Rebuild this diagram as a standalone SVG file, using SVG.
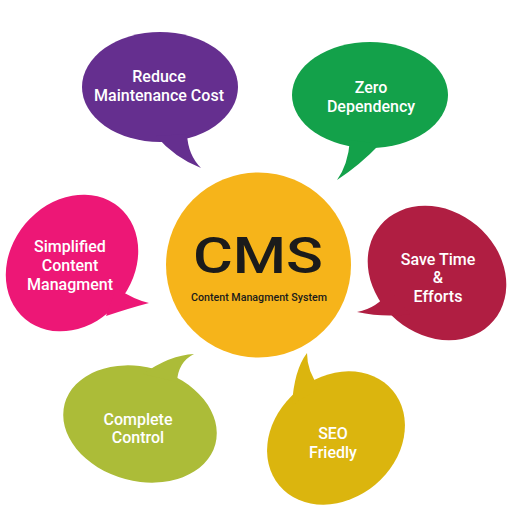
<svg xmlns="http://www.w3.org/2000/svg" width="512" height="512" viewBox="0 0 512 512">
<style>
.lbl{font-family:Roboto,"Liberation Sans",sans-serif;font-weight:500;font-size:16px;fill:#ffffff;text-anchor:middle}
.cms{font-family:Roboto,"Liberation Sans",sans-serif;font-weight:500;fill:#1b1b1b;text-anchor:middle}
</style>
<rect width="512" height="512" fill="#ffffff"/>
<g id="reduce-cost" fill="#652F8F">
<ellipse cx="160" cy="87" rx="78" ry="55"/>
<path d="M156,136 Q175,158 201,168 Q188,155 187,134 Z"/>
<text class="lbl" x="159" y="82">Reduce</text>
<text class="lbl" x="159" y="101">Maintenance Cost</text>
</g>
<g id="zero-dependency" fill="#13A14A">
<ellipse cx="370" cy="95" rx="78" ry="53"/>
<path d="M350,140 Q348,165 337,180 Q360,165 380,144 Z"/>
<text class="lbl" x="371" y="93">Zero</text>
<text class="lbl" x="371" y="112">Dependency</text>
</g>
<g id="simplified" fill="#ED1776">
<ellipse cx="72" cy="263" rx="73" ry="61" transform="rotate(-50 72 263)"/>
<path d="M116,288 Q135,300 149,303 Q130,308 106,316 Z"/>
<text class="lbl" x="70" y="252">Simplified</text>
<text class="lbl" x="70" y="271">Content</text>
<text class="lbl" x="70" y="290">Managment</text>
</g>
<g id="save-time" fill="#B01E42">
<ellipse cx="437" cy="273" rx="74" ry="62" transform="rotate(40 437 273)"/>
<path d="M390,290 Q378,308 357,312 Q385,318 410,314 Z"/>
<text class="lbl" x="438" y="265">Save Time</text>
<text class="lbl" x="438" y="283">&amp;</text>
<text class="lbl" x="438" y="302">Efforts</text>
</g>
<g id="complete-control" fill="#ACBC38">
<ellipse cx="140" cy="424" rx="78" ry="57" transform="rotate(15 140 424)"/>
<path d="M143,374 Q170,355 194,354 Q178,362 177,382 Z"/>
<text class="lbl" x="138" y="425">Complete</text>
<text class="lbl" x="138" y="443">Control</text>
</g>
<g id="seo" fill="#DBB50E">
<ellipse cx="336" cy="438" rx="74" ry="61" transform="rotate(-40 336 438)"/>
<path d="M292,405 Q294,370 307,353 Q307,372 320,388 Z"/>
<text class="lbl" x="333" y="439">SEO</text>
<text class="lbl" x="333" y="458">Friedly</text>
</g>
<g id="cms">
<circle cx="258.5" cy="265" r="92.5" fill="#F6B41A"/>
<text class="cms" x="258" y="273" font-size="50" font-weight="700" textLength="130" lengthAdjust="spacingAndGlyphs">CMS</text>
<text class="cms" x="259" y="301" font-size="10.5" font-weight="400" textLength="136" lengthAdjust="spacingAndGlyphs">Content Managment System</text>
</g>
<g id="connectors"></g>
</svg>
